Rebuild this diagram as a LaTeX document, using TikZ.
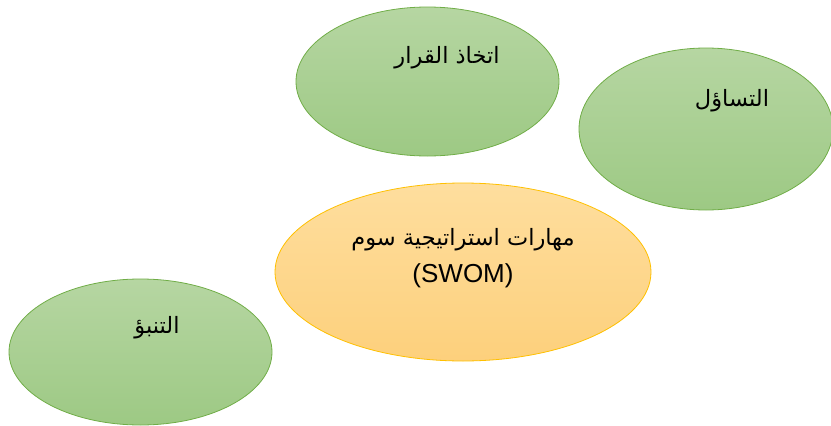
\documentclass[tikz,border=0pt]{standalone}
\usepackage{fontspec}
\setmainfont{Liberation Sans}
\newfontfamily\arabicfont[Script=Arabic]{DejaVu Sans}
\TeXXeTstate=1
\usetikzlibrary{shapes.geometric}
\definecolor{greenline}{HTML}{70AD47}
\definecolor{greentop}{HTML}{B6D6A2}
\definecolor{greenbot}{HTML}{9DC984}
\definecolor{orangeline}{HTML}{FFC000}
\definecolor{orangetop}{HTML}{FEDE9E}
\definecolor{orangebot}{HTML}{FDD07C}
\tikzset{
  skill/.style={ellipse, draw=greenline, line width=0.8pt, top color=greentop, bottom color=greenbot, inner sep=0pt},
  core/.style={ellipse, draw=orangeline, line width=0.8pt, top color=orangetop, bottom color=orangebot, inner sep=0pt},
  word/.style={font=\arabicfont\fontsize{22.5}{37}\selectfont, align=center}
}
\begin{document}
\begin{tikzpicture}[x=1pt,y=-1pt]
    \useasboundingbox (0,0) rectangle (831,426);
    \node[skill, minimum width=263pt, minimum height=149pt] (decide) at (427.5,81.5) {};
    \node[skill, minimum width=254pt, minimum height=162pt] (ask) at (706,129) {};
    \node[core, minimum width=376pt, minimum height=178pt] (swom) at (463,272) {};
    \node[skill, minimum width=263pt, minimum height=146pt] (predict) at (140.5,352) {};
    \node[word] (decidet) at (447,58) {\beginR اتخاذ القرار\endR};
    \node[word] (askt) at (732,101) {\beginR التساؤل\endR};
    \node[word] (swomt) at (463,258) {\beginR مهارات استراتيجية سوم\endR\\{\fontsize{26}{37}\selectfont\rmfamily (SWOM)}};
    \node[word] (predictt) at (157,328) {\beginR التنبؤ\endR};
  \end{tikzpicture}
\end{document}
